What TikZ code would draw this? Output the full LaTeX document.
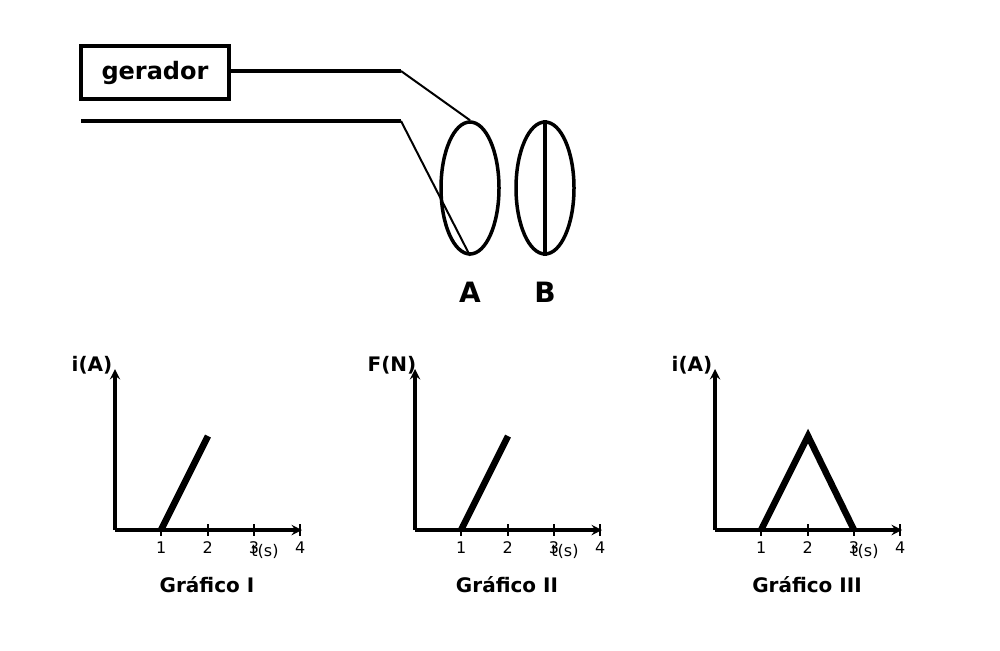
\documentclass[tikz,border=0pt]{standalone}
\usepackage{fontspec}
\setmainfont{DejaVu Sans}
\usetikzlibrary{shapes.geometric}
\begin{document}
\begin{tikzpicture}[x=1pt,y=-1pt,
  wire/.style={line width=4pt},
  thinw/.style={line width=2pt},
  axis/.style={line width=3.5pt,->,>=stealth},
  curve/.style={line width=6.5pt},
  lbl/.style={font=\fontsize{20}{20}\selectfont\bfseries},
  num/.style={font=\fontsize{16}{16}\selectfont}]

\useasboundingbox (0,0) rectangle (1000,650);

% gerador e fios
\node[draw,line width=3.5pt,minimum width=148pt,minimum height=53pt,
  font=\fontsize{24}{24}\selectfont\bfseries] (ger) at (155,72.5) {gerador};
\coordinate (P) at (401,71);
\coordinate (Q) at (401,121);
\coordinate (W) at (81,121);
\draw[wire] (ger.east |- P) -- (P);
\draw[wire] (W) -- (Q);

% espiras
\node[draw,ellipse,line width=3.5pt,minimum width=58pt,minimum height=132pt,inner sep=0pt] (A) at (470,188) {};
\node[draw,ellipse,line width=3.5pt,minimum width=58pt,minimum height=132pt,inner sep=0pt] (B) at (545,188) {};
\draw[thinw] (P) -- (A.north);
\draw[thinw] (Q) -- (A.south);
\draw[line width=3.5pt] (B.north) -- (B.south);
\node[font=\fontsize{28}{28}\selectfont\bfseries] (la) at (470,292) {A};
\node[font=\fontsize{28}{28}\selectfont\bfseries] (lb) at (545,292) {B};

% graficos
\foreach \dx/\yl/\tit in {0/i(A)/Gráfico I, 300/F(N)/Gráfico II, 600/i(A)/Gráfico III}{
  \begin{scope}[xshift=\dx]
    \coordinate (O) at (115,530);
    \draw[axis] (O) -- (302,530);
    \draw[axis] (O) -- (115,369);
    \foreach \k in {1,...,4}{
      \draw[line width=2pt] (115+46.3*\k,524) -- (115+46.3*\k,536);
      \node[num] at (115+46.3*\k,548) {\k};
    }
    \node[num] at (265,551) {t(s)};
    \node[lbl] at (92,365) {\yl};
    \node[lbl] at (207,585) {\tit};
  \end{scope}
}
\draw[curve] (161,530) -- (208,436);
\draw[curve] (461,530) -- (508,436);
\draw[curve,line join=miter] (761,530) -- (808,436) -- (854,530);

\end{tikzpicture}
\end{document}
